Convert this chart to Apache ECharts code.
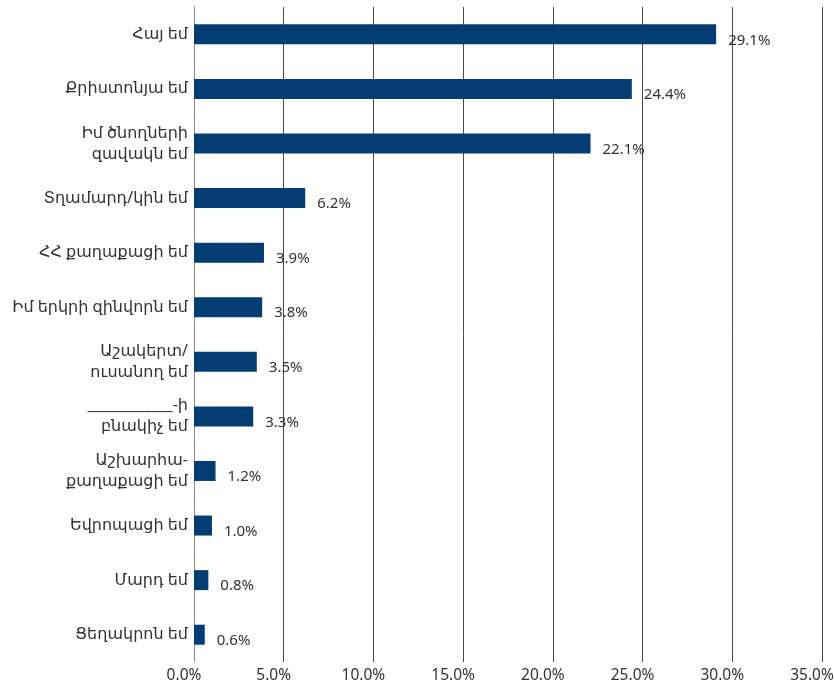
<!DOCTYPE html>
<html><head><meta charset="utf-8">
<script src="https://cdn.jsdelivr.net/npm/echarts@6/dist/echarts.min.js"></script>
<style>html,body{margin:0;padding:0;background:#fff}#c{width:834px;height:686px}</style>
</head><body><div id="c"></div>
<script>
const categories = [
  'Հայ եմ',
  'Քրիստոնյա եմ',
  'Իմ ծնողների\nզավակն եմ',
  'Տղամարդ/կին եմ',
  'ՀՀ քաղաքացի եմ',
  'Իմ երկրի զինվորն եմ',
  'Աշակերտ/\nուսանող եմ',
  '____________-ի\nբնակիչ եմ',
  'Աշխարհա-\nքաղաքացի եմ',
  'Եվրոպացի եմ',
  'Մարդ եմ',
  'Ցեղակրոն եմ'
];
const values = [29.1, 24.4, 22.1, 6.2, 3.9, 3.8, 3.5, 3.3, 1.2, 1.0, 0.8, 0.6];
const xTicks = { min: 0, max: 35, interval: 5 };

const font = '"Noto Sans", "DejaVu Sans", sans-serif';
const chart = echarts.init(document.getElementById('c'), null, { renderer: 'canvas' });
chart.setOption({
  animation: false,
  grid: { left: 194, right: 12, top: 7, bottom: 24, containLabel: false, outerBoundsMode: 'none' },
  xAxis: {
    type: 'value', min: xTicks.min, max: xTicks.max, interval: xTicks.interval,
    axisLine: { show: false }, axisTick: { show: false },
    splitLine: { show: true, lineStyle: { color: '#4a4a4a', width: 1 } },
    axisLabel: { formatter: v => v.toFixed(1) + '%', color: '#333', fontSize: 15.5, fontFamily: font, margin: 6, padding: [0, 20, 0, 0] }
  },
  yAxis: {
    type: 'category', data: categories, inverse: true,
    axisLine: { show: true, lineStyle: { color: '#8a8a8a', width: 1 } },
    axisTick: { show: false },
    axisLabel: { color: '#333', fontSize: 16, fontFamily: font, margin: 6, lineHeight: 21 }
  },
  series: [{
    type: 'bar', data: values, barWidth: 20,
    itemStyle: { color: '#033d74' },
    label: {
      show: true, position: 'right', distance: 12, offset: [0, 6],
      formatter: p => p.value.toFixed(1) + '%',
      color: '#333', fontSize: 15, fontFamily: font
    }
  }]
});
</script></body></html>
